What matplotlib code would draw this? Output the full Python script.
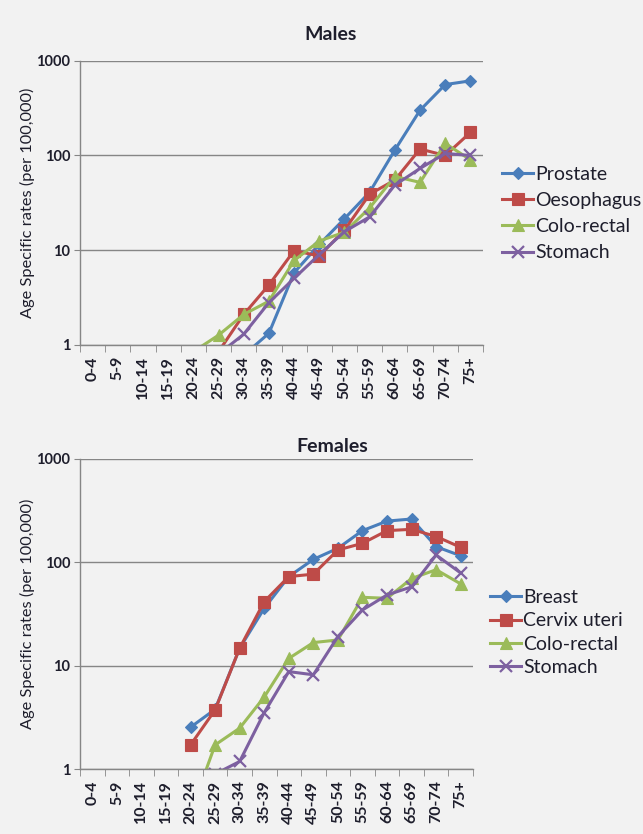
"""Age specific cancer incidence rates by sex, log scale (Excel-style line charts)."""

import matplotlib
matplotlib.use("Agg")
import matplotlib.pyplot as plt
import numpy as np
from matplotlib.ticker import FixedLocator, NullFormatter

nan = np.nan

age_groups = ["0-4", "5-9", "10-14", "15-19", "20-24", "25-29", "30-34", "35-39",
              "40-44", "45-49", "50-54", "55-59", "60-64", "65-69", "70-74", "75+"]

# Males
prostate = [nan, nan, nan, nan, nan, nan, 0.78, 1.33, 5.8, 11.5, 21.5, 41, 114, 300, 560, 613]
oesophagus = [nan, nan, nan, nan, nan, 0.85, 2.1, 4.3, 9.9, 8.7, 16.3, 39, 55, 117, 100, 175]
colorectal_m = [nan, nan, nan, nan, 0.85, 1.27, 2.1, 2.9, 7.8, 12.5, 15.5, 28, 60, 52, 134, 90]
stomach_m = [nan, nan, nan, nan, nan, 0.8, 1.3, 2.8, 5.05, 9.0, 15.7, 22.5, 48.7, 73, 105, 100]

# Females
breast = [nan, nan, nan, nan, 2.55, 3.8, 14.8, 36, 73, 107, 137, 203, 251, 263, 142, 116]
cervix = [nan, nan, nan, nan, 1.72, 3.75, 14.8, 41.8, 73, 77, 132, 153, 203, 209, 178, 140]
colorectal_f = [nan, nan, nan, nan, 0.38, 1.72, 2.5, 5.0, 11.8, 16.8, 17.8, 46, 45, 70, 85, 62]
stomach_f = [nan, nan, nan, nan, nan, 0.9, 1.19, 3.53, 8.8, 8.2, 19.2, 34.7, 48.5, 58, 118, 79]

BLUE = "#4A7EBB"
RED = "#BE4B48"
GREEN = "#9BBB59"
PURPLE = "#7D60A0"
GRAY = "#868686"
BG = "#F2F2F2"
TXT = "#1E1E2C"

plt.rcParams["font.family"] = ["Lato", "DejaVu Sans"]

W, H = 643, 834
fig = plt.figure(figsize=(W / 100, H / 100), dpi=100, facecolor=BG)


def px_axes(left, top, right, bottom):
    return fig.add_axes([left / W, 1 - bottom / H, (right - left) / W, (bottom - top) / H])


def style_axes(ax):
    ax.set_facecolor(BG)
    ax.set_yscale("log")
    ax.set_ylim(1, 1000)
    ax.set_xlim(-0.5, len(age_groups) - 0.5)
    for side in ("top", "right"):
        ax.spines[side].set_visible(False)
    for side in ("left", "bottom"):
        ax.spines[side].set_color(GRAY)
        ax.spines[side].set_linewidth(1.0)
    ax.yaxis.set_major_locator(FixedLocator([1, 10, 100, 1000]))
    ax.yaxis.set_minor_locator(FixedLocator([]))
    ax.yaxis.set_minor_formatter(NullFormatter())
    ax.set_yticklabels(["1", "10", "100", "1000"], fontsize=10.5, fontweight="bold", color=TXT)
    ax.tick_params(axis="y", which="major", length=4, color=GRAY, pad=3)
    ax.grid(axis="y", which="major", color=GRAY, linewidth=1.0)
    ax.set_axisbelow(True)
    ax.set_xticks(range(len(age_groups)))
    ax.set_xticklabels(age_groups, rotation=90, fontsize=11.5, fontweight="bold", color=TXT)
    ax.tick_params(axis="x", which="major", length=0, pad=8)
    ax.xaxis.set_minor_locator(FixedLocator(np.arange(-0.5, len(age_groups), 1.0)))
    ax.tick_params(axis="x", which="minor", length=5, color=GRAY)
    ax.set_ylabel("Age Specific rates (per 100,000)", fontsize=11.8, color=TXT, labelpad=1)


def draw(ax, series):
    x = np.arange(len(age_groups))
    handles = []
    for label, values, color, marker, ms in series:
        (h,) = ax.plot(x, values, color=color, marker=marker, markersize=ms,
                       linewidth=2.2, markeredgewidth=1.6 if marker == "x" else 0.8,
                       markeredgecolor=color, label=label)
        handles.append(h)
    return handles


# --- Males ---
ax1 = px_axes(80, 60.7, 483, 345)
style_axes(ax1)
h1 = draw(ax1, [
    ("Prostate", prostate, BLUE, "D", 6.5),
    ("Oesophagus", oesophagus, RED, "s", 8.5),
    ("Colo-rectal", colorectal_m, GREEN, "^", 8.5),
    ("Stomach", stomach_m, PURPLE, "x", 8.5),
])
fig.text(331 / W, 1 - 35 / H, "Males", ha="center", va="center",
         fontsize=14, fontweight="bold", color=TXT)
fig.legend(handles=h1, loc="upper left", bbox_to_anchor=(502 / W, 1 - 166 / H),
           frameon=False, fontsize=14, handlelength=1.6, handletextpad=0.12,
           labelspacing=0.47, borderpad=0, borderaxespad=0, labelcolor=TXT)

# --- Females ---
ax2 = px_axes(80, 459, 473, 769.3)
style_axes(ax2)
h2 = draw(ax2, [
    ("Breast", breast, BLUE, "D", 6.5),
    ("Cervix uteri", cervix, RED, "s", 8.5),
    ("Colo-rectal", colorectal_f, GREEN, "^", 8.5),
    ("Stomach", stomach_f, PURPLE, "x", 8.5),
])
fig.text(332 / W, 1 - 447 / H, "Females", ha="center", va="center",
         fontsize=14, fontweight="bold", color=TXT)
fig.legend(handles=h2, loc="upper left", bbox_to_anchor=(490 / W, 1 - 589 / H),
           frameon=False, fontsize=14, handlelength=1.6, handletextpad=0.12,
           labelspacing=0.33, borderpad=0, borderaxespad=0, labelcolor=TXT)

fig.savefig("out.png", dpi=100, facecolor=BG)
